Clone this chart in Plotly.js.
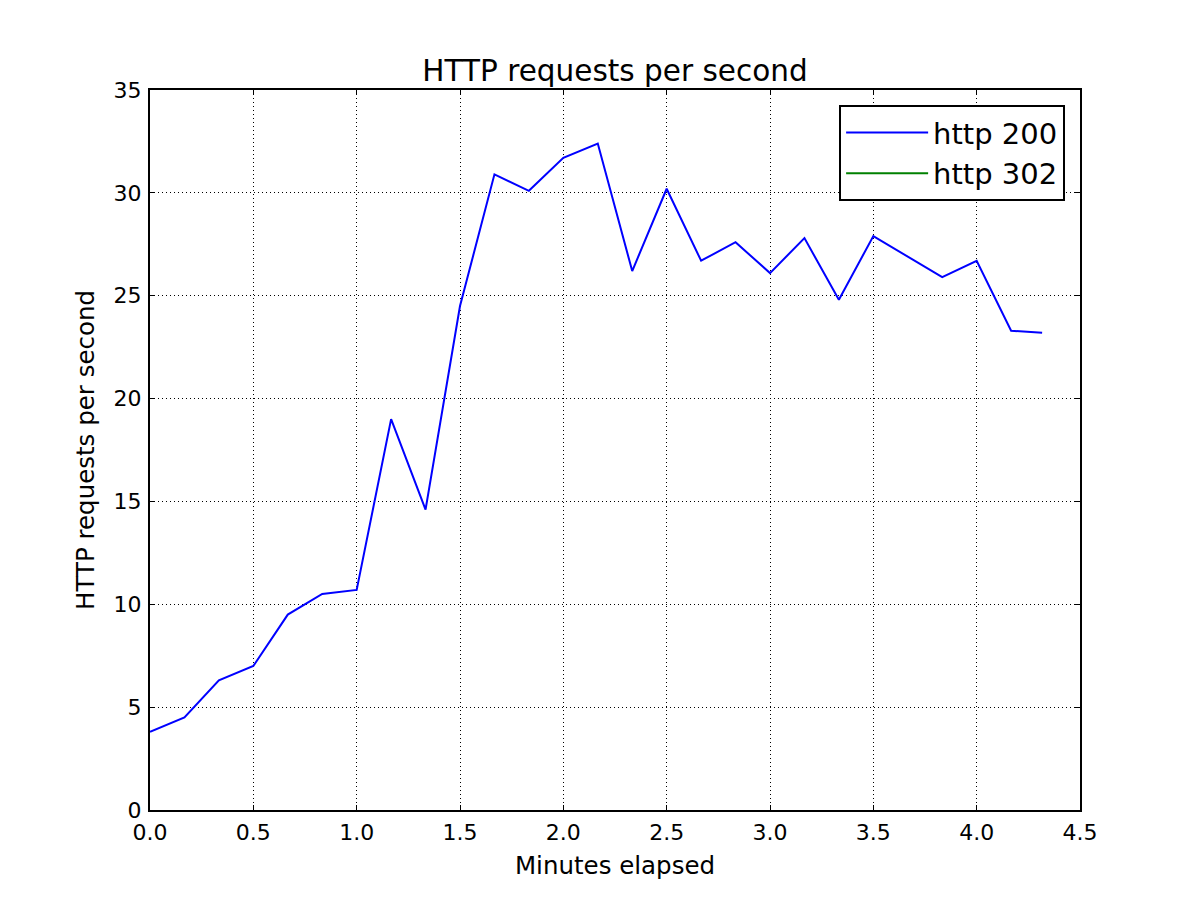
<!DOCTYPE html>
<html>
<head>
<meta charset="utf-8">
<script src="https://cdn.plot.ly/plotly-3.0.1.min.js"></script>
<style>html,body{margin:0;padding:0;background:#fff;}#chart{width:1200px;height:900px;}</style>
</head>
<body>
<div id="chart"></div>
<script>
// Minutes elapsed (samples every 10 s)
const minutes = [0, 0.1667, 0.3333, 0.5, 0.6667, 0.8333, 1.0, 1.1667, 1.3333, 1.5,
  1.6667, 1.8333, 2.0, 2.1667, 2.3333, 2.5, 2.6667, 2.8333, 3.0, 3.1667,
  3.3333, 3.5, 3.8333, 4.0, 4.1667, 4.3167];
const http200 = [3.8, 4.5, 6.3, 7.0, 9.5, 10.5, 10.7, 19.0, 14.6, 24.5,
  30.9, 30.1, 31.7, 32.4, 26.2, 30.2, 26.7, 27.6, 26.1, 27.8,
  24.8, 27.9, 25.9, 26.7, 23.3, 23.2];
// http 302 has no visible points in the reference (legend entry only)
const http302Minutes = [null];
const http302 = [null];
const xTicks = [0, 0.5, 1.0, 1.5, 2.0, 2.5, 3.0, 3.5, 4.0, 4.5];
const yTicks = [0, 5, 10, 15, 20, 25, 30, 35];

const font = 'DejaVu Sans, sans-serif';
const traces = [
  {x: minutes, y: http200, type: 'scatter', mode: 'lines', name: 'http 200',
   line: {color: '#0000ff', width: 2}},
  {x: http302Minutes, y: http302, type: 'scatter', mode: 'lines', name: 'http 302',
   line: {color: '#008000', width: 2}, showlegend: true}
];
const axisCommon = {
  showline: true, linecolor: '#000', linewidth: 2, mirror: 'ticks',
  ticks: 'inside', ticklen: 5, tickwidth: 1, tickcolor: '#000',
  showgrid: true, gridcolor: '#000', gridwidth: 1, griddash: '1px,3px',
  zeroline: false, tickfont: {family: font, size: 22, color: '#000'}
};
const layout = {
  width: 1200, height: 900,
  paper_bgcolor: '#fff', plot_bgcolor: '#fff',
  margin: {l: 150, r: 120, t: 90, b: 90},
  title: {text: 'HTTP requests per second', font: {family: font, size: 29.5, color: '#000'},
          x: 0.5125, xanchor: 'center', y: 0.922, yanchor: 'middle'},
  xaxis: Object.assign({}, axisCommon, {
    range: [0, 4.5], tickvals: xTicks, ticktext: xTicks.map(v => v.toFixed(1)),
    ticklabelstandoff: 2,
    title: {text: 'Minutes elapsed', font: {family: font, size: 24.5, color: '#000'}, standoff: 12}
  }),
  yaxis: Object.assign({}, axisCommon, {
    range: [0, 35], tickvals: yTicks, ticktext: yTicks.map(String),
    ticklabelstandoff: 2,
    title: {text: 'HTTP requests per second', font: {family: font, size: 24.5, color: '#000'}, standoff: 12}
  }),
  showlegend: true,
  legend: {x: 0.984, xanchor: 'right', y: 0.979, yanchor: 'top',
    bordercolor: '#000', borderwidth: 2, bgcolor: '#fff',
    font: {family: font, size: 29, color: '#000'}, itemwidth: 82,
    tracegroupgap: 0}
};
Plotly.newPlot('chart', traces, layout, {displayModeBar: false, staticPlot: true});
</script>
</body>
</html>
